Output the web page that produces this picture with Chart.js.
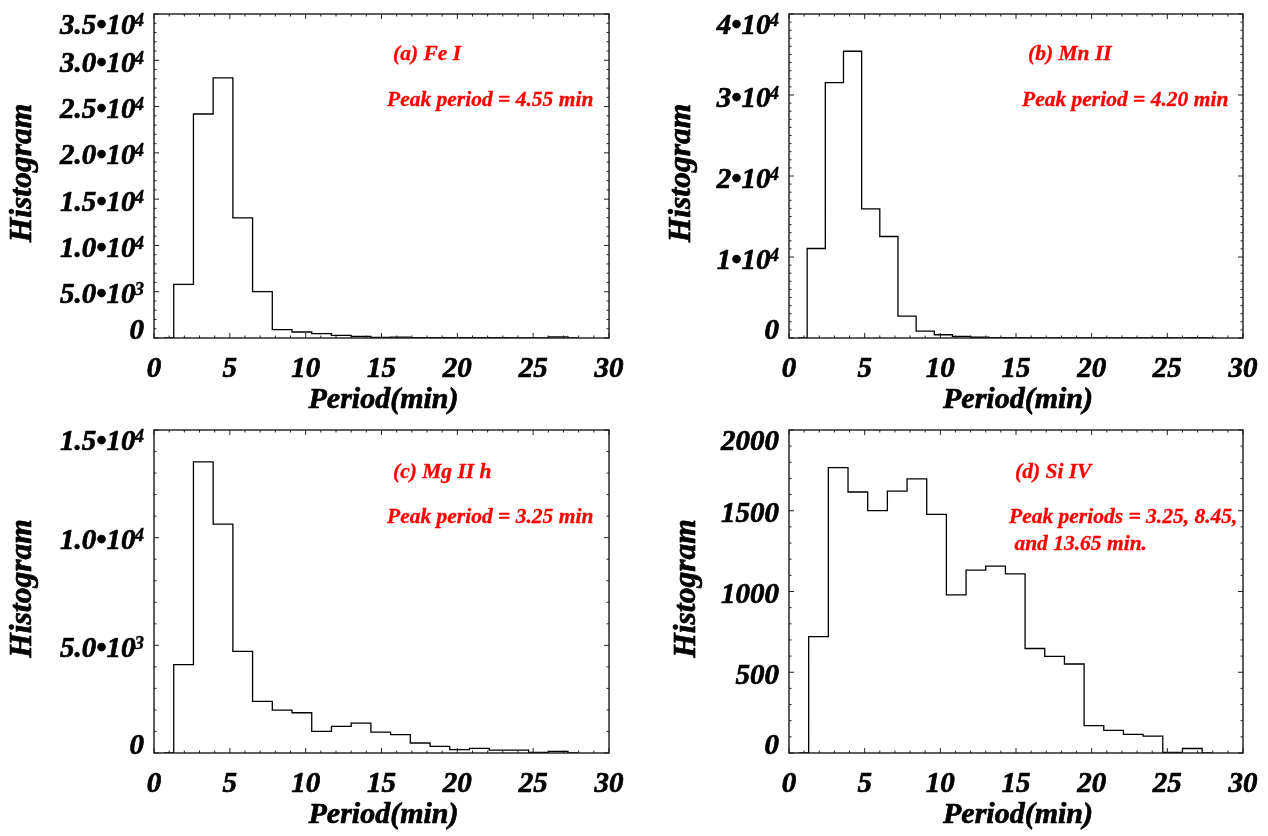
<!DOCTYPE html>
<html>
<head>
<meta charset="utf-8">
<title>Period histograms</title>
<script src="https://cdn.jsdelivr.net/npm/chart.js@4.4.1/dist/chart.umd.min.js"></script>
<style>
    body { margin: 0; background: #fff; }
    #page { position: relative; width: 1268px; height: 836px; }
    #page canvas { position: absolute; }
</style>
</head>
<body>
<div id="page">
    <canvas id="chart-a" width="634" height="418" style="left:0;top:0"></canvas>
    <canvas id="chart-b" width="634" height="418" style="left:634px;top:0"></canvas>
    <canvas id="chart-c" width="634" height="418" style="left:0;top:418px"></canvas>
    <canvas id="chart-d" width="634" height="418" style="left:634px;top:418px"></canvas>
</div>
<script>
// bin centres (min) and counts for each line
const periodsFe = [0.65, 1.95, 3.25, 4.55, 5.85, 7.15, 8.45, 9.75, 11.05, 12.35, 13.65, 14.95, 16.25, 17.55, 18.85, 20.15, 21.45, 22.75, 24.05, 25.35, 26.65, 27.95];
const countsFe = [0, 5800, 24200, 28100, 12970, 5020, 900, 650, 475, 290, 185, 60, 90, 40, 30, 30, 25, 25, 20, 20, 130, 10];

const periodsMn = [0.6, 1.8, 3.0, 4.2, 5.4, 6.6, 7.8, 9.0, 10.2, 11.4, 12.6, 13.8, 15.0, 16.2, 17.4, 18.6, 19.8, 21.0, 22.2, 23.4, 24.6, 25.8, 27.0, 28.2];
const countsMn = [0, 11050, 31520, 35400, 15950, 12530, 2700, 850, 400, 200, 90, 50, 35, 25, 20, 20, 15, 15, 15, 15, 40, 20, 30, 10];

const periodsMg = [0.65, 1.95, 3.25, 4.55, 5.85, 7.15, 8.45, 9.75, 11.05, 12.35, 13.65, 14.95, 16.25, 17.55, 18.85, 20.15, 21.45, 22.75, 24.05, 25.35, 26.65, 27.95];
const countsMg = [0, 4100, 13520, 10630, 4715, 2395, 1995, 1870, 1002, 1234, 1392, 965, 856, 464, 306, 153, 213, 130, 130, 28, 74, 10];

const periodsSi = [0.65, 1.95, 3.25, 4.55, 5.85, 7.15, 8.45, 9.75, 11.05, 12.35, 13.65, 14.95, 16.25, 17.55, 18.85, 20.15, 21.45, 22.75, 24.05, 25.35, 26.65, 27.95];
const countsSi = [0, 721, 1767, 1616, 1501, 1621, 1697, 1478, 979, 1132, 1157, 1109, 647, 598, 551, 169, 140, 115, 105, 3, 28, 0];

// axis ticks and labels ("^" marks the exponent)
const xTicks = [0, 5, 10, 15, 20, 25, 30];
const xTickLabels = ['0', '5', '10', '15', '20', '25', '30'];

const yTicksFe = [0, 5000, 10000, 15000, 20000, 25000, 30000, 35000];
const yLabelsFe = ['0', '5.0\u202210^3', '1.0\u202210^4', '1.5\u202210^4', '2.0\u202210^4', '2.5\u202210^4', '3.0\u202210^4', '3.5\u202210^4'];
const yTicksMn = [0, 10000, 20000, 30000, 40000];
const yLabelsMn = ['0', '1\u202210^4', '2\u202210^4', '3\u202210^4', '4\u202210^4'];
const yTicksMg = [0, 5000, 10000, 15000];
const yLabelsMg = ['0', '5.0\u202210^3', '1.0\u202210^4', '1.5\u202210^4'];
const yTicksSi = [0, 500, 1000, 1500, 2000];
const yLabelsSi = ['0', '500', '1000', '1500', '2000'];

const SERIF = '"Liberation Serif", "Times New Roman", serif';

// filled text with a thin outline so the glyphs come out heavy
function heavyText(ctx, text, x, y, weight) {
    ctx.lineWidth = weight;
    ctx.strokeStyle = ctx.fillStyle;
    ctx.lineJoin = 'round';
    ctx.strokeText(text, x, y);
    ctx.fillText(text, x, y);
}

// IDL-like box: frame, inward ticks on all sides, tick labels, titles, notes
const idlFrame = {
    id: 'idlFrame',
    afterDatasetsDraw(chart, args, opts) {
        const { ctx, chartArea: a, scales: { x, y } } = chart;
        ctx.save();

        // ticks
        ctx.strokeStyle = '#222';
        ctx.lineWidth = 1;
        ctx.beginPath();
        for (let v = 0; v <= 30; v += 1) {
            const px = x.getPixelForValue(v);
            const len = v % 5 === 0 ? 5 : 2.5;
            ctx.moveTo(px, a.bottom); ctx.lineTo(px, a.bottom - len);
            ctx.moveTo(px, a.top); ctx.lineTo(px, a.top + len);
        }
        const nMinor = Math.round(y.max / opts.minor);
        for (let i = 0; i <= nMinor; i++) {
            const v = i * opts.minor;
            const py = y.getPixelForValue(v);
            const len = opts.yTicks.includes(v) ? 5 : 2.5;
            ctx.moveTo(a.left, py); ctx.lineTo(a.left + len, py);
            ctx.moveTo(a.right, py); ctx.lineTo(a.right - len, py);
        }
        ctx.stroke();

        ctx.lineWidth = 1.4;
        ctx.strokeStyle = '#1a1a1a';
        ctx.strokeRect(a.left, a.top, a.right - a.left, a.bottom - a.top);

        // x tick labels
        ctx.fillStyle = '#000';
        ctx.font = 'italic bold 29px ' + SERIF;
        ctx.textAlign = 'center';
        ctx.textBaseline = 'alphabetic';
        xTicks.forEach((v, i) => {
            heavyText(ctx, xTickLabels[i], x.getPixelForValue(v), a.bottom + 39, 0.7);
        });

        // y tick labels, end labels pulled inside the range
        const right = a.left - 10;
        opts.yTicks.forEach((v, i) => {
            let cy = y.getPixelForValue(v) + 1.5;
            if (i === 0) cy = a.bottom - 9;
            if (i === opts.yTicks.length - 1) cy = a.top + 10;
            const base = cy + 10;
            const [mant, exp] = opts.yLabels[i].split('^');
            ctx.textAlign = 'right';
            let xEnd = right;
            if (exp) {
                ctx.font = 'italic bold 19px ' + SERIF;
                heavyText(ctx, exp, right, base - 8, 0.4);
                xEnd = right - ctx.measureText(exp).width + 1;
            }
            ctx.font = 'italic bold 29px ' + SERIF;
            heavyText(ctx, mant, xEnd, base, 0.7);
        });

        // axis titles
        ctx.font = 'italic bold 30px ' + SERIF;
        ctx.textAlign = 'center';
        ctx.textBaseline = 'middle';
        heavyText(ctx, 'Period(min)', (a.left + a.right) / 2 + 2, a.bottom + 62, 0.7);
        ctx.save();
        ctx.translate(opts.yTitleX, (a.top + a.bottom) / 2 - 3);
        ctx.rotate(-Math.PI / 2);
        ctx.font = 'italic bold 31.5px ' + SERIF;
        heavyText(ctx, 'Histogram', 0, 0, 0.7);
        ctx.restore();

        // red notes
        ctx.fillStyle = 'rgb(255,0,0)';
        ctx.font = 'italic bold 21.5px ' + SERIF;
        ctx.textAlign = 'left';
        opts.notes.forEach(n => heavyText(ctx, n.text, a.left + n.dx, a.top + n.dy, 0.3));

        ctx.restore();
    }
};

function makePanel(id, periods, counts, yMax, yTicks, yLabels, minor, box, notes) {
    const ctx = document.getElementById(id);
    return new Chart(ctx, {
        type: 'line',
        data: {
            datasets: [{
                data: periods.map((p, i) => ({ x: p, y: counts[i] })),
                stepped: 'middle',
                borderColor: '#000',
                borderWidth: 1.3,
                pointRadius: 0,
                fill: false
            }]
        },
        options: {
            responsive: false,
            animation: false,
            events: [],
            layout: { padding: { top: box.top, right: 25, left: 0, bottom: 0 } },
            scales: {
                x: {
                    type: 'linear', min: 0, max: 30,
                    ticks: { display: false }, grid: { display: false }, border: { display: false },
                    afterFit(s) { s.height = box.xh; }
                },
                y: {
                    type: 'linear', min: 0, max: yMax,
                    ticks: { display: false }, grid: { display: false }, border: { display: false },
                    afterFit(s) { s.width = box.yw; }
                }
            },
            plugins: {
                legend: { display: false },
                tooltip: { enabled: false },
                idlFrame: { yTicks, yLabels, minor, yTitleX: box.titleX, notes }
            }
        },
        plugins: [idlFrame]
    });
}

makePanel('chart-a', periodsFe, countsFe, 35000, yTicksFe, yLabelsFe, 1000,
    { top: 14, xh: 80, yw: 154, titleX: 23 },
    [{ text: '(a) Fe I', dx: 239, dy: 40 }, { text: 'Peak period = 4.55 min', dx: 233, dy: 86 }]);

makePanel('chart-b', periodsMn, countsMn, 40000, yTicksMn, yLabelsMn, 1000,
    { top: 14, xh: 80, yw: 155, titleX: 48 },
    [{ text: '(b) Mn II', dx: 239, dy: 40 }, { text: 'Peak period = 4.20 min', dx: 233, dy: 86 }]);

makePanel('chart-c', periodsMg, countsMg, 15000, yTicksMg, yLabelsMg, 1000,
    { top: 12, xh: 83, yw: 154, titleX: 23 },
    [{ text: '(c) Mg II h', dx: 239, dy: 42 }, { text: 'Peak period = 3.25 min', dx: 233, dy: 87 }]);

makePanel('chart-d', periodsSi, countsSi, 2000, yTicksSi, yLabelsSi, 100,
    { top: 12, xh: 83, yw: 155, titleX: 53 },
    [{ text: '(d) Si IV', dx: 226, dy: 42 },
     { text: 'Peak periods = 3.25, 8.45,', dx: 220, dy: 87 },
     { text: ' and 13.65 min.', dx: 220, dy: 114 }]);
</script>
</body>
</html>
